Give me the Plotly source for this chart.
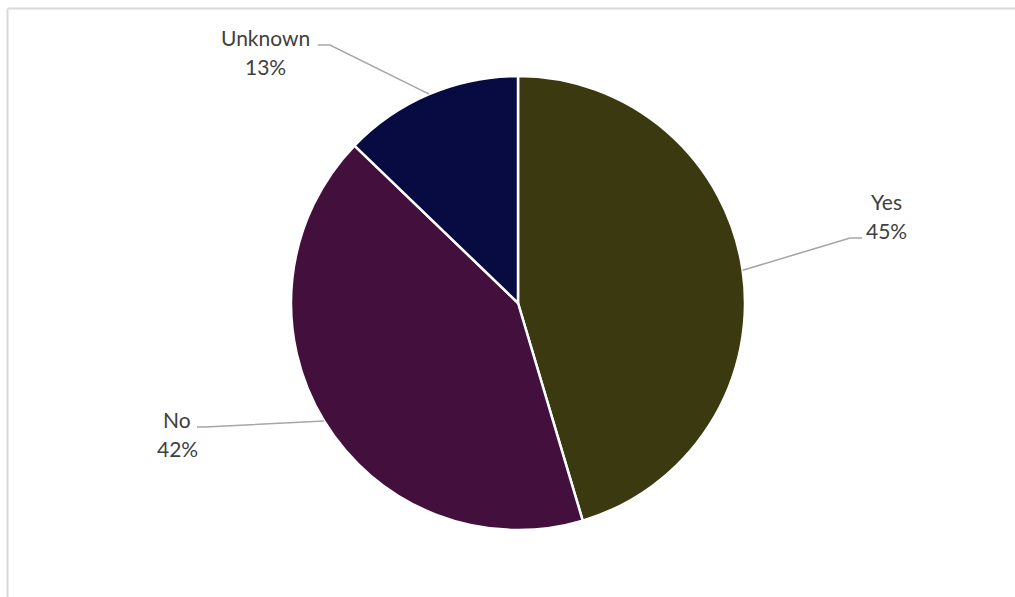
import math
import plotly.graph_objects as go

# Data
categories = ["Yes", "No", "Unknown"]
values = [45.4, 41.8, 12.8]
colors = ["#3B390F", "#430F3C", "#080A42"]

# Layout geometry (pixels)
W, H = 1015, 597
cx, cy, R = 518, 303, 227

# label placement (style): label center, leader line elbow, leader line end
label_pos = {
    "Yes": dict(x=886, y=216, elbow=(850, 238), end=(862, 238)),
    "No": dict(x=177, y=434, elbow=(205, 427), end=(197, 427)),
    "Unknown": dict(x=265, y=52, elbow=(330, 45), end=(318, 45)),
}

def px(x):
    return x / W

def py(y):
    return 1 - y / H

fig = go.Figure(go.Pie(
    labels=categories,
    values=values,
    sort=False,
    direction="clockwise",
    rotation=0,
    marker=dict(colors=colors, line=dict(color="white", width=2.5)),
    textinfo="none",
    hoverinfo="label+percent",
    domain=dict(x=[px(cx - R), px(cx + R)], y=[py(cy + R), py(cy - R)]),
    showlegend=False,
))

total = sum(values)
shapes = []
annotations = []
cum = 0
for cat, v in zip(categories, values):
    mid = (cum + v / 2) / total * 2 * math.pi
    cum += v
    ex = cx + R * math.sin(mid)
    ey = cy - R * math.cos(mid)
    lp = label_pos[cat]
    path = "M {} {} L {} {} L {} {}".format(
        px(ex), py(ey), px(lp["elbow"][0]), py(lp["elbow"][1]),
        px(lp["end"][0]), py(lp["end"][1]))
    shapes.append(dict(type="path", xref="paper", yref="paper", path=path,
                       line=dict(color="#A6A6A6", width=1.6)))
    pct = "{:.0f}%".format(v / total * 100)
    for txt, dy in ((cat, -14.5), (pct, 14.5)):
        annotations.append(dict(
            x=px(lp["x"]), y=py(lp["y"] + dy), xref="paper", yref="paper",
            text=txt, showarrow=False, xanchor="center", yanchor="middle",
            font=dict(family="Lato", size=21, color="#404040")))

# chart border (top and left edges visible)
border = dict(color="#D9D9D9", width=2)
shapes.append(dict(type="line", xref="paper", yref="paper",
                   x0=px(7.5), y0=0, x1=px(7.5), y1=py(8.5), line=border, layer="below"))
shapes.append(dict(type="line", xref="paper", yref="paper",
                   x0=px(7.5), y0=py(8.5), x1=1, y1=py(8.5), line=border, layer="below"))

fig.update_layout(
    width=W, height=H,
    margin=dict(l=0, r=0, t=0, b=0),
    paper_bgcolor="white", plot_bgcolor="white",
    shapes=shapes, annotations=annotations,
)

fig.write_html(
    "out.html",
    config={"displayModeBar": False},
    post_script=(
        "document.documentElement.style.overflow='hidden';"
        "document.body.style.margin='0';document.body.style.overflow='hidden';"
    ),
)
